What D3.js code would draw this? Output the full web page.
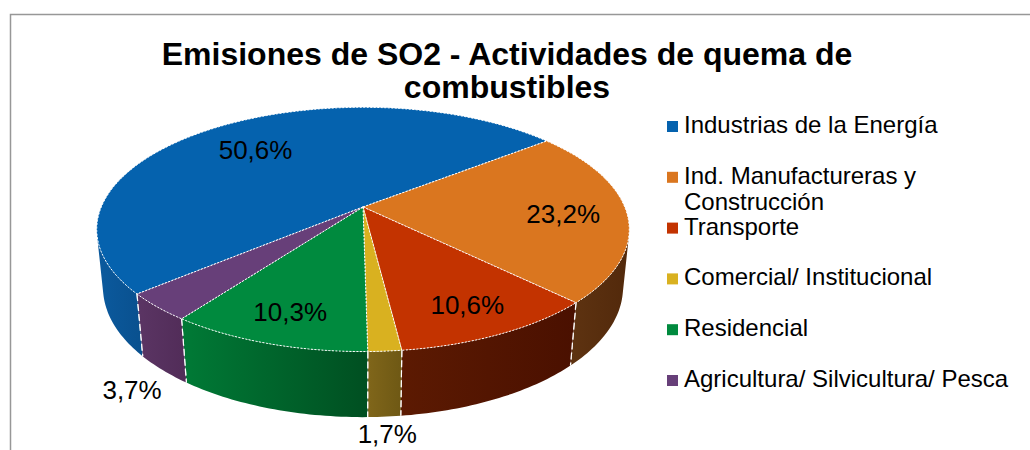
<!DOCTYPE html>
<html>
<head>
<meta charset="utf-8">
<script src="https://cdn.jsdelivr.net/npm/d3@7"></script>
<style>
  html, body { margin: 0; padding: 0; background: #fff; }
  svg { display: block; font-family: "Liberation Sans", Arial, sans-serif; }
</style>
</head>
<body>
<div id="chart"></div>
<script>
// Emisiones de SO2 — 3D pie (perspective), drawn by hand with d3.pie + d3.line
const categories = [
  'Industrias de la Energía',
  'Ind. Manufactureras y Construcción',
  'Transporte',
  'Comercial/ Institucional',
  'Residencial',
  'Agricultura/ Silvicultura/ Pesca'
];
const values = [50.6, 23.2, 10.6, 1.7, 10.3, 3.7];
const topColors = ['#0562ae', '#da761f', '#c33300', '#d9b120', '#008a3e', '#673f79'];
const sideLight = ['#0b5a9e', '#5e3311', '#5c1a02', '#80661a', '#007a36', '#5b3564'];
const sideDark  = ['#09508e', '#52290b', '#4a1000', '#6e5814', '#004f21', '#512c58'];
const title = ['Emisiones de SO2 - Actividades de quema de', 'combustibles'];

const W = 1030, H = 450;
const cx = 363, cy = 207;              // top-face centre on screen
const phi = 26.8 * Math.PI / 180;      // elevation
const S = Math.sin(phi), C = Math.cos(phi);
const D = 4.86, F = 1272, h = 0.25;    // camera distance, focal, thickness (radius = 1)
const START = 229.5 * Math.PI / 180;   // first slice angle

function proj(a, r, z) {
  const u = r * Math.sin(a), v = -r * Math.cos(a);
  const yc = v * S - z * C;
  const d = D - v * C - z * S;
  return [cx + F * u / d, cy + F * yc / d];
}
function arcPts(a0, a1, r, z) {
  const n = Math.max(2, Math.ceil(Math.abs(a1 - a0) / (Math.PI / 180)));
  return d3.range(n + 1).map(i => proj(a0 + (a1 - a0) * i / n, r, z));
}

const svg = d3.select('#chart').append('svg').attr('width', W).attr('height', H);
const defs = svg.append('defs');
const line = d3.line();

// frame
svg.append('path')
  .attr('d', `M10.5,${H} V14.5 H${W}`)
  .attr('fill', 'none').attr('stroke', '#979797').attr('stroke-width', 1.5);

const pie = d3.pie().sort(null).startAngle(START).endAngle(START + 2 * Math.PI);
const arcs = pie(values);

// visible part of the outer wall
const lim = Math.acos(-1 / (D * C));
const visMin = lim, visMax = 2 * Math.PI - lim;

const gWall = svg.append('g');
arcs.forEach((d, i) => {
  [0, -2 * Math.PI, 2 * Math.PI].forEach((off, k) => {
    const a0 = Math.max(d.startAngle + off, visMin);
    const a1 = Math.min(d.endAngle + off, visMax);
    if (a1 <= a0) return;
    const top = arcPts(a0, a1, 1, 0);
    const bot = arcPts(a1, a0, 1, -h);
    const xs = top.concat(bot).map(p => p[0]);
    const gid = `wall${i}_${k}`;
    const gr = defs.append('linearGradient').attr('id', gid)
      .attr('gradientUnits', 'userSpaceOnUse')
      .attr('x1', d3.min(xs)).attr('x2', d3.max(xs)).attr('y1', 0).attr('y2', 0);
    gr.append('stop').attr('offset', 0).attr('stop-color', sideLight[i]);
    gr.append('stop').attr('offset', 1).attr('stop-color', sideDark[i]);
    gWall.append('path')
      .attr('d', line(top.concat(bot)) + 'Z')
      .attr('fill', `url(#${gid})`);
    // vertical boundary edges
    [d.startAngle + off, d.endAngle + off].forEach(a => {
      if (a < visMin || a > visMax) return;
      gWall.append('path')
        .attr('d', line([proj(a, 1, 0), proj(a, 1, -h)]))
        .attr('stroke', '#fff').attr('stroke-width', 1.2)
        .attr('stroke-dasharray', '7,3').attr('fill', 'none');
    });
  });
});

// top faces
const gTop = svg.append('g');
arcs.forEach((d, i) => {
  const pts = [proj(0, 0, 0)].concat(arcPts(d.startAngle, d.endAngle, 1, 0));
  gTop.append('path')
    .attr('d', line(pts) + 'Z')
    .attr('fill', topColors[i])
    .attr('stroke', '#fff').attr('stroke-width', 1)
    .attr('stroke-dasharray', '2,1.5');
});

// data labels: inside for big slices, below the wall for small ones
const fmt = v => v.toFixed(1).replace('.', ',') + '%';
const gLab = svg.append('g');
arcs.forEach((d, i) => {
  const mid = (d.startAngle + d.endAngle) / 2;
  let p;
  if (d.value < 5) {
    p = proj(mid, 1, -h);
    p = [p[0] + Math.sin(mid) * 45, Math.min(p[1] + 20, H - 16)];
  } else {
    p = proj(mid, d.value > 40 ? 0.71 : d.value > 20 ? 0.76 : 0.79, 0);
    p = [p[0], p[1] + 2];
  }
  gLab.append('text')
    .attr('x', p[0]).attr('y', p[1])
    .attr('text-anchor', 'middle').attr('dominant-baseline', 'central')
    .attr('font-size', 26).attr('fill', '#000')
    .text(fmt(d.value));
});

// title
svg.append('g').selectAll('text').data(title).join('text')
  .attr('x', 507).attr('y', (d, i) => 65 + i * 33)
  .attr('text-anchor', 'middle')
  .attr('font-size', 32).attr('font-weight', 'bold').attr('fill', '#000')
  .text(d => d);

// legend
const LX = 667, LY = 133, LSTEP = 50.8, LFS = 24, WRAP = 340;
const gLeg = svg.append('g');
categories.forEach((c, i) => {
  const y = LY + i * LSTEP;
  gLeg.append('rect')
    .attr('x', LX).attr('y', y - 12).attr('width', 11).attr('height', 11)
    .attr('fill', topColors[i]);
  const t = gLeg.append('text')
    .attr('x', LX + 17).attr('y', y)
    .attr('font-size', LFS).attr('fill', '#000');
  // simple word wrap
  const words = c.split(' ');
  let cur = [];
  let ts = t.append('tspan').attr('x', LX + 17).attr('dy', 0);
  words.forEach(w => {
    cur.push(w);
    ts.text(cur.join(' '));
    if (ts.node().getComputedTextLength() > WRAP && cur.length > 1) {
      cur.pop();
      ts.text(cur.join(' '));
      cur = [w];
      ts = t.append('tspan').attr('x', LX + 17).attr('dy', 26).text(w);
    }
  });
});
</script>
</body>
</html>
